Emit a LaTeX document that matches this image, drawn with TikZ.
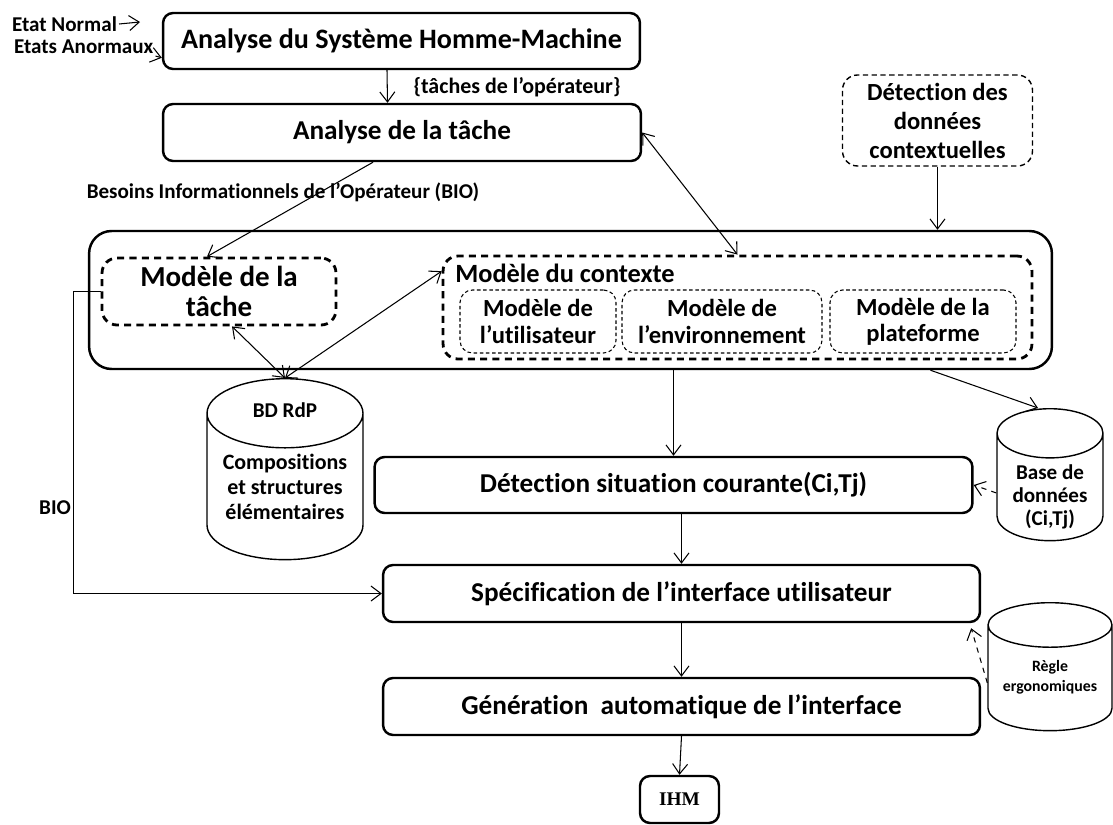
\documentclass[tikz,border=0pt]{standalone}
\usepackage{fontspec}
\setmainfont{Carlito}[Ligatures=NoCommon]
\newfontfamily\ihmfont{Liberation Serif}
\usetikzlibrary{shapes.geometric,arrows.meta}

\begin{document}
\begin{tikzpicture}[x=0.02cm,y=-0.02cm,>={Straight Barb[length=2mm,width=3mm]}]
  \tikzset{ box/.style={draw,line width=1.4pt,rounded corners=0.2cm,align=center,font=\bfseries\fontsize{15.5}{18}\selectfont},
    dbox/.style={draw,line width=1.6pt,dash pattern=on 4pt off 3pt,rounded corners=0.3cm,align=center},
    sbox/.style={draw,line width=0.6pt,dash pattern=on 2pt off 1.5pt,rounded corners=0.25cm,align=center,font=\bfseries\fontsize{14}{15}\selectfont},
    db/.style={draw,line width=0.8pt,cylinder,shape border rotate=90,anchor=north},
    lbl/.style={font=\bfseries\fontsize{12}{14}\selectfont,inner sep=1pt},
    fl/.style={->,line width=0.6pt},
  }
  \useasboundingbox (0,0) rectangle (1113,825);

  \node[lbl,anchor=west] (normal) at (10,24) {Etat Normal};
  \node[lbl,anchor=west] (anormal) at (12,47) {Etats Anormaux};
  \coordinate (normalend) at (140,22);

  \node[box,minimum width=9.54cm,minimum height=1.12cm,font=\bfseries\fontsize{16}{18}\selectfont] (A1) at (401.5,41) {Analyse du Système Homme-Machine};
  \node[box,minimum width=9.56cm,minimum height=1.14cm] (A2) at (402,132.5) {Analyse de la tâche};
  \node[lbl,font=\bfseries\fontsize{12.5}{14}\selectfont] (taches) at (517,87) {\{tâches de l’opérateur\}};
  \node[dbox,line width=0.8pt,dash pattern=on 3pt off 2pt,minimum width=3.8cm,minimum height=1.82cm,
    font=\bfseries\fontsize{14}{16.5}\selectfont] (detcont) at (937.5,120.5) {Détection des\\données\\contextuelles};
  \node[lbl] (bio1) at (283,192) {Besoins Informationnels de l’Opérateur (BIO)};

  % the big box with the models
  \node[draw,line width=1.4pt,rounded corners=0.45cm,minimum width=19.26cm,minimum height=2.76cm] (sys) at (570.5,300) {};
  \node[dbox,minimum width=4.68cm,minimum height=1.34cm,font=\bfseries\fontsize{16.5}{17.5}\selectfont] (tache) at (219,291.5) {Modèle de la\\tâche};
  \node[dbox,minimum width=11.78cm,minimum height=2.06cm] (ctx) at (737.5,307.5) {};
  \node[anchor=west,inner sep=0pt,font=\bfseries\fontsize{15}{17}\selectfont] (ctxtitle) at (455,273) {Modèle du contexte};
  \node[sbox,minimum width=3.12cm,minimum height=1.26cm] (user) at (538,321.5) {Modèle de\\l’utilisateur};
  \node[sbox,minimum width=4.0cm,minimum height=1.26cm] (env) at (722,321.5) {Modèle de\\l’environnement};
  \node[sbox,minimum width=3.72cm,minimum height=1.26cm] (plat) at (923,321.5) {Modèle de la\\plateforme};

  % data bases
  \node[db,minimum width=3.12cm,minimum height=3.62cm,aspect=5.9] (bd) at (285,378) {};
  \node[font=\bfseries\fontsize{12}{15}\selectfont] (bdtitle) at (285,410) {BD RdP};
  \node[align=center,font=\bfseries\fontsize{12.5}{14.2}\selectfont] (bdtext) at (285,487) {Compositions\\et structures\\élémentaires};
  \node[db,minimum width=2.12cm,minimum height=2.64cm,aspect=4.2] (based) at (1050,408) {};
  \node[align=center,font=\bfseries\fontsize{12}{13}\selectfont] (basedtext) at (1050,497) {Base de\\données\\(Ci,Tj)};
  \node[db,minimum width=2.48cm,minimum height=2.56cm,aspect=3.8] (regle) at (1050,602) {};
  \node[align=center,font=\bfseries\fontsize{9}{11.5}\selectfont] (regletext) at (1050,677) {Règle\\ergonomiques};

  \node[box,minimum width=11.96cm,minimum height=1.12cm] (detect) at (673.5,485) {Détection situation courante(Ci,Tj)};
  \node[box,minimum width=11.94cm,minimum height=1.14cm] (spec) at (681.5,593.5) {Spécification de l’interface utilisateur};
  \node[box,minimum width=11.94cm,minimum height=1.14cm] (gen) at (681.5,706.5) {Génération~ automatique de l’interface};
  \node[box,minimum width=1.58cm,minimum height=0.94cm,font=\ihmfont\bfseries\fontsize{11}{13}\selectfont] (ihm) at (679.5,799.5) {IHM};
  \node[lbl,anchor=east] (bio2) at (73,508) {BIO};

  % the connections
  \draw[fl] (normal.east) -- (normalend);
  \draw[fl] (anormal.south east) -- (A1.184);
  \draw[fl] ([xshift=-0.29cm]A1.south) -- ([xshift=-0.29cm]A2.north);
  \draw[fl] ([xshift=-0.58cm]A2.south) -- ([xshift=-0.24cm]tache.north);
  \draw[fl,<->] (A2.east) -- (ctx.north);
  \draw[fl] (detcont.south) -- (detcont.south |- sys.north);
  \draw[fl,<->] ([xshift=0.26cm]tache.south) -- (bd.north);
  \draw[fl,<->] (ctx.173) -- (bd.north);
  \draw[fl] (tache.west) -- ++(-27,0) |- (spec.west);
  \draw[fl] (detect.north |- sys.south) -- (detect.north);
  \draw[fl] ([xshift=7.2cm]sys.south) -- ([xshift=-0.24cm]based.north);
  \draw[fl,dashed] (based.west) -- (detect.east);
  \draw[fl] (spec.north |- detect.south) -- (spec.north);
  \draw[fl,dashed] (regle.west) -- ([shift={(-10,5)}]spec.south east);
  \draw[fl] (spec.south) -- (gen.north);
  \draw[fl] (gen.south) -- (ihm.north);
\end{tikzpicture}
\end{document}
